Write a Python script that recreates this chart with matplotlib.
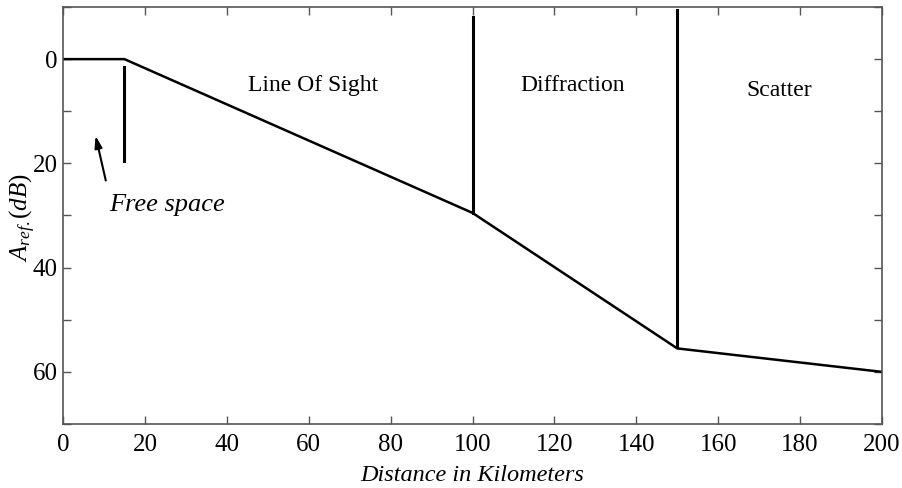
import numpy as np
import matplotlib
matplotlib.use("Agg")
from matplotlib import pyplot as plt
from matplotlib.ticker import MultipleLocator

plt.rcParams['font.family'] = ['Liberation Serif', 'DejaVu Serif']
plt.rcParams['mathtext.fontset'] = 'custom'
plt.rcParams['mathtext.it'] = 'Liberation Serif:italic'
plt.rcParams['mathtext.rm'] = 'Liberation Serif'

# attenuation profile (km, dB)
distance = [0, 15, 100, 150, 200]
attenuation = [0, 0, 29.5, 55.5, 60]

# region boundaries: x position, top and bottom of the marker
boundary_x = [15, 100, 150]
boundary_top = [1.5, -8, -9.5]
boundary_bottom = [19.5, 29.5, 55.3]

region_names = ["Line Of Sight", "Diffraction", "Scatter"]
region_x = [61, 124.5, 174.8]
region_y = [5, 5, 6]

fig = plt.figure(figsize=(9.02, 4.88), dpi=100)
ax = fig.add_axes([63 / 902, 1 - 424 / 488, 819 / 902, 417 / 488])

ax.plot(distance, attenuation, color="black", linewidth=1.8)
for x, top, bot in zip(boundary_x, boundary_top, boundary_bottom):
    ax.plot([x, x], [top, bot], color="black", linewidth=2.2)

for name, x, y in zip(region_names, region_x, region_y):
    ax.text(x, y, name, ha="center", va="center", fontsize=17)

ax.text(25.5, 28, "Free space", ha="center", va="center", fontsize=19, style="italic")
ax.annotate("", xy=(7.8, 14.2), xytext=(10.6, 23.8),
            arrowprops=dict(arrowstyle="-|>,head_length=0.7,head_width=0.22",
                            color="black", linewidth=1.5))

ax.set_xlim(0, 200)
ax.set_ylim(70, -10)
ax.xaxis.set_major_locator(MultipleLocator(20))
ax.yaxis.set_major_locator(MultipleLocator(20))
ax.yaxis.set_minor_locator(MultipleLocator(10))
ax.tick_params(which="both", direction="in", top=True, right=True,
               labelsize=18, color="#555555", width=1)
ax.tick_params(which="major", length=6)
ax.tick_params(which="minor", length=6)
ax.tick_params(axis="x", pad=7)
ax.tick_params(axis="y", pad=4)
for s in ax.spines.values():
    s.set_color("#555555")
    s.set_linewidth(1.2)

ax.set_xlabel("Distance in Kilometers", fontsize=17.5, style="italic", labelpad=7)
ax.set_ylabel(r"$A_{ref.}(dB)$", fontsize=18, va="center")
ax.yaxis.set_label_coords(-0.049, 0.496)

fig.savefig("out.png", dpi=100)
